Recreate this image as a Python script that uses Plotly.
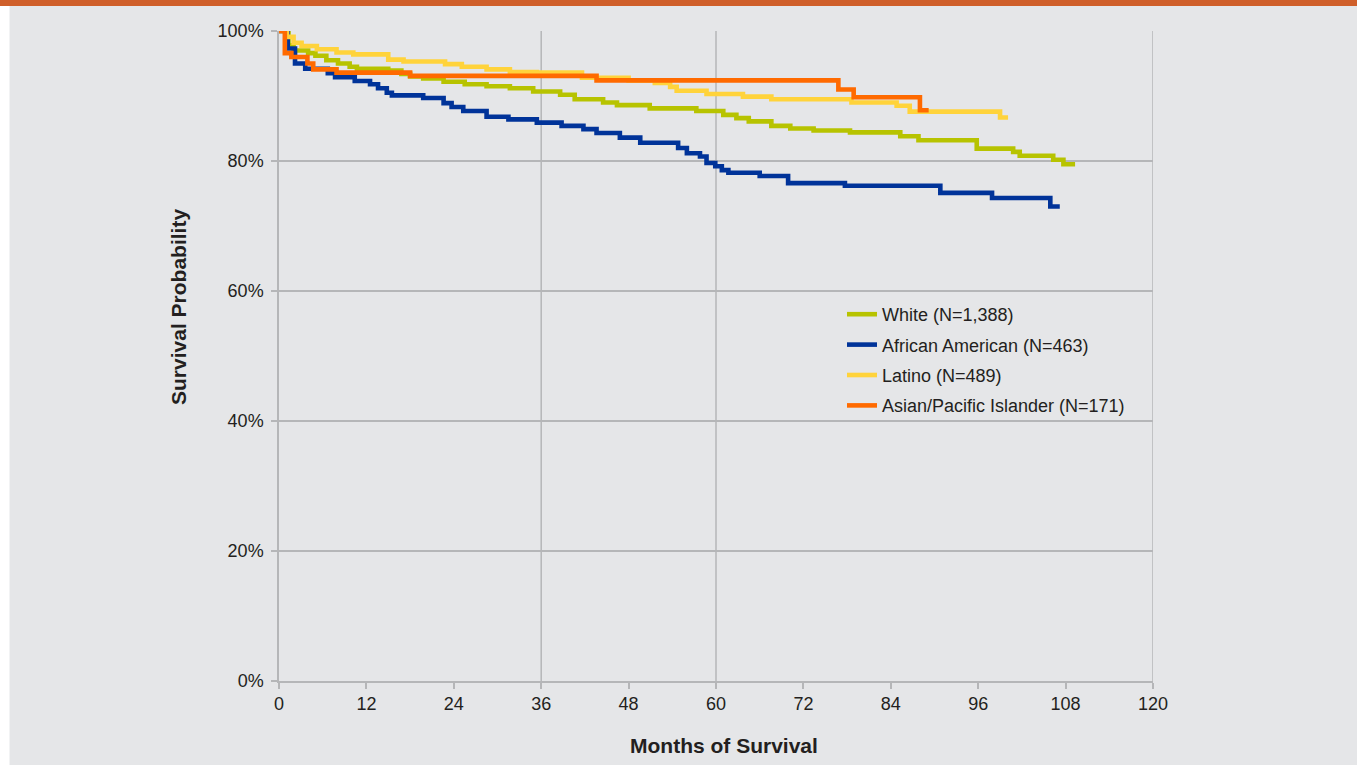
import plotly.graph_objects as go

# ---------------- data ----------------
white_months = [0, 1.3, 2.0, 4.0, 5.0, 6.5, 8.1, 9.7, 10.7, 15.0, 16.8, 18.0, 19.8, 22.6, 25.5,
                28.5, 31.7, 34.9, 38.6, 40.6, 44.5, 46.4, 50.9, 57.3, 61.0, 62.8, 64.5, 67.6, 70.2,
                73.4, 78.4, 85.3, 87.8, 95.8, 100.8, 101.7, 106.3, 107.7, 109.3]
white_surv = [100, 97.8, 97.0, 96.6, 96.2, 95.5, 95.0, 94.5, 94.2, 93.9, 93.4, 93.0, 92.7, 92.2, 91.8,
              91.5, 91.2, 90.7, 90.2, 89.5, 89.0, 88.6, 88.1, 87.7, 87.1, 86.6, 86.1, 85.4, 85.0,
              84.7, 84.4, 83.8, 83.2, 81.9, 81.4, 80.8, 80.2, 79.5, 79.5]

aa_months = [0, 1.2, 2.2, 3.6, 6.7, 7.7, 10.4, 12.5, 13.6, 14.8, 15.5, 19.8, 22.6, 23.7, 25.3,
             28.5, 31.5, 35.4, 38.8, 41.8, 43.6, 46.8, 49.6, 54.8, 56.0, 57.8, 58.7, 59.9, 60.8,
             61.7, 66.0, 69.9, 77.7, 90.8, 97.9, 105.9, 107.2]
aa_surv = [100, 97.3, 95.0, 94.2, 93.5, 92.9, 92.3, 91.8, 91.2, 90.5, 90.1, 89.7, 88.9, 88.3, 87.7,
           86.8, 86.4, 85.9, 85.4, 84.9, 84.3, 83.6, 82.8, 82.0, 81.2, 80.7, 79.7, 79.2, 78.6,
           78.2, 77.7, 76.6, 76.2, 75.1, 74.3, 73.0, 73.0]

latino_months = [0, 1.1, 2.0, 3.1, 5.2, 7.9, 10.2, 15.0, 17.1, 22.8, 25.1, 28.5, 31.7, 35.4, 41.6,
                 48.0, 51.6, 53.7, 54.6, 58.7, 63.7, 67.6, 78.6, 84.8, 86.6, 99.0, 100.1]
latino_surv = [100, 99.1, 98.2, 97.7, 97.2, 96.7, 96.4, 95.6, 95.3, 94.9, 94.5, 94.1, 93.7, 93.6, 92.8,
               92.4, 92.0, 91.4, 90.8, 90.3, 89.9, 89.5, 89.0, 88.5, 87.6, 86.7, 86.7]

api_months = [0, 0.8, 1.7, 3.9, 4.7, 7.9, 18.0, 43.6, 76.8, 78.9, 88.0, 89.2]
api_surv = [100, 96.6, 96.0, 95.0, 94.1, 93.6, 93.1, 92.4, 91.0, 89.8, 87.8, 87.8]

series_names = ["White (N=1,388)", "African American (N=463)", "Latino (N=489)",
                "Asian/Pacific Islander (N=171)"]
series_colors = ["#b7c300", "#003399", "#ffd33b", "#ff6a00"]

x_ticks = list(range(0, 121, 12))
y_ticks = [0, 20, 40, 60, 80, 100]
y_tick_labels = [f"{v}%" for v in y_ticks]
ref_months = [36, 60, 120]

# ---------------- figure ----------------
W, H = 1357, 765
L, R, T, B = 279, 1357 - 1153, 31, 765 - 681
pw, ph = W - L - R, H - T - B

fig = go.Figure()
data = [(white_months, white_surv), (aa_months, aa_surv),
        (latino_months, latino_surv), (api_months, api_surv)]
for i, ((mx, sy), name, col) in enumerate(zip(data, series_names, series_colors)):
    fig.add_trace(go.Scatter(x=mx, y=sy, mode="lines", name=name, legendgroup=f"g{i}",
                             line=dict(color=col, width=4.6, shape="hv")))

grid_col = "#b5b6b8"
for m in ref_months:
    fig.add_shape(type="line", xref="x", yref="y", x0=m, x1=m, y0=0, y1=100,
                  line=dict(color=grid_col, width=1.5), layer="below")


def px2x(p):
    return (p - L) / pw


def py2y(p):
    return (H - B - p) / ph


# page decorations: white left strip, orange banner
fig.add_shape(type="rect", xref="paper", yref="paper", x0=px2x(-5), x1=px2x(9.5),
              y0=py2y(H + 5), y1=py2y(-5), fillcolor="white", line=dict(width=0), layer="below")
fig.add_shape(type="rect", xref="paper", yref="paper", x0=px2x(-5), x1=px2x(W + 5),
              y0=py2y(6), y1=py2y(-5), fillcolor="#cf5f2a", line=dict(width=0), layer="above")

font_family = "Liberation Sans, Arial, sans-serif"
fig.update_layout(
    width=W, height=H, autosize=False,
    margin=dict(l=L, r=R, t=T, b=B, pad=0),
    paper_bgcolor="#e5e6e8", plot_bgcolor="#e5e6e8",
    font=dict(family=font_family, size=18, color="#231f20"),
    showlegend=True,
    legend=dict(x=px2x(842), y=py2y(296), xanchor="left", yanchor="top",
                bgcolor="rgba(0,0,0,0)", font=dict(size=18, color="#231f20"),
                tracegroupgap=4, itemwidth=30),
    xaxis=dict(range=[0, 120], tickvals=x_ticks, showgrid=False, zeroline=False,
               showline=True, linecolor=grid_col, linewidth=1.5,
               ticks="outside", ticklen=6, tickcolor=grid_col, tickwidth=1.5,
               tickfont=dict(size=18), fixedrange=True),
    yaxis=dict(range=[0, 100], tickvals=y_ticks, ticktext=y_tick_labels,
               showgrid=True, gridcolor=grid_col, gridwidth=1.5, zeroline=False,
               showline=True, linecolor=grid_col, linewidth=1.5,
               ticks="outside", ticklen=6, tickcolor=grid_col, tickwidth=1.5,
               ticklabelstandoff=4,
               tickfont=dict(size=18), fixedrange=True),
)

fig.add_annotation(text="<b>Months of Survival</b>", xref="paper", yref="paper",
                   x=px2x(724), y=py2y(745), showarrow=False,
                   font=dict(size=21, color="#231f20"), xanchor="center", yanchor="middle")
fig.add_annotation(text="<b>Survival Probability</b>", xref="paper", yref="paper",
                   x=px2x(178), y=py2y(307), showarrow=False, textangle=-90,
                   font=dict(size=21, color="#231f20"), xanchor="center", yanchor="middle")

fig.write_html("out.html", config={"displayModeBar": False},
               post_script="document.body.style.margin='0px';")
